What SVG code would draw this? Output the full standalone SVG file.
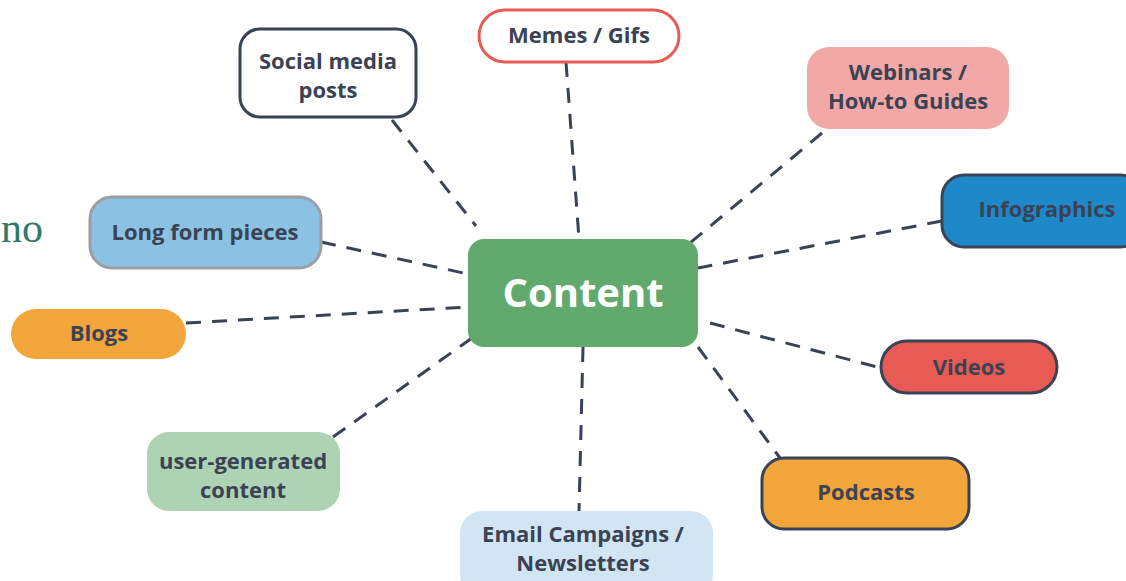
<svg xmlns="http://www.w3.org/2000/svg" width="1126" height="581" viewBox="0 0 1126 581">
<style>
.t{font-family:"Open Sans","Liberation Sans",sans-serif;font-weight:700;font-size:22px;fill:#3b4254;text-anchor:middle;dominant-baseline:central}
.c{stroke:#3a4356;stroke-width:3;stroke-dasharray:15 11;fill:none}
.dk{stroke:#3a4356;stroke-width:3}
</style>
<rect width="1126" height="581" fill="#ffffff"/>
<text x="1" y="242" font-family="Liberation Serif,serif" font-size="42" fill="#2e7a6a">no</text>
<g id="connectors">
<line class="c" x1="392" y1="120" x2="476" y2="226"/>
<line class="c" x1="566" y1="62" x2="579" y2="239"/>
<line class="c" x1="822" y1="133" x2="690" y2="243"/>
<line class="c" x1="942" y1="221" x2="698" y2="268"/>
<line class="c" x1="321" y1="242" x2="468" y2="274"/>
<line class="c" x1="186" y1="323" x2="468" y2="307"/>
<line class="c" x1="333" y1="437" x2="472" y2="338"/>
<line class="c" x1="583" y1="347" x2="579" y2="511"/>
<line class="c" x1="698" y1="347" x2="780" y2="458"/>
<line class="c" x1="710" y1="323" x2="881" y2="368"/>
</g>
<g id="content">
<rect x="468" y="239" width="230" height="108" rx="16" fill="#62a96e"/>
<text x="583" y="291" font-family="Open Sans,Liberation Sans,sans-serif" font-weight="700" font-size="40" fill="#ffffff" text-anchor="middle" dominant-baseline="central">Content</text>
</g>
<g id="social">
<rect class="dk" x="240" y="29" width="176" height="88" rx="20" fill="#ffffff"/>
<text class="t" x="328" y="60">Social media</text>
<text class="t" x="328" y="89">posts</text>
</g>
<g id="memes">
<rect x="479" y="10" width="200" height="52" rx="26" fill="#ffffff" stroke="#e85b55" stroke-width="3"/>
<text class="t" x="579" y="34">Memes / Gifs</text>
</g>
<g id="webinars">
<rect x="807" y="47" width="202" height="82" rx="22" fill="#f2a8a6"/>
<text class="t" x="908" y="71">Webinars /</text>
<text class="t" x="908" y="100">How-to Guides</text>
</g>
<g id="infographics">
<rect class="dk" x="942" y="175" width="200" height="72" rx="22" fill="#1e88c9"/>
<text class="t" x="1047" y="208">Infographics</text>
</g>
<g id="longform">
<rect x="90" y="197" width="231" height="71" rx="22" fill="#8bc2e3" stroke="#9a9ea6" stroke-width="3"/>
<text class="t" x="205" y="231">Long form pieces</text>
</g>
<g id="blogs">
<rect x="11" y="309" width="175" height="50" rx="25" fill="#f1a53b"/>
<text class="t" x="99" y="332">Blogs</text>
</g>
<g id="ugc">
<rect x="147" y="432" width="193" height="79" rx="22" fill="#aed3b4"/>
<text class="t" x="243" y="460">user-generated</text>
<text class="t" x="243" y="489">content</text>
</g>
<g id="email">
<rect x="460" y="511" width="253" height="85" rx="22" fill="#d2e5f2"/>
<text class="t" x="583" y="533">Email Campaigns /</text>
<text class="t" x="583" y="562">Newsletters</text>
</g>
<g id="podcasts">
<rect class="dk" x="762" y="458" width="207" height="71" rx="22" fill="#f1a53b"/>
<text class="t" x="866" y="491">Podcasts</text>
</g>
<g id="videos">
<rect class="dk" x="881" y="341" width="176" height="52" rx="26" fill="#e85b55"/>
<text class="t" x="969" y="366">Videos</text>
</g>
</svg>
